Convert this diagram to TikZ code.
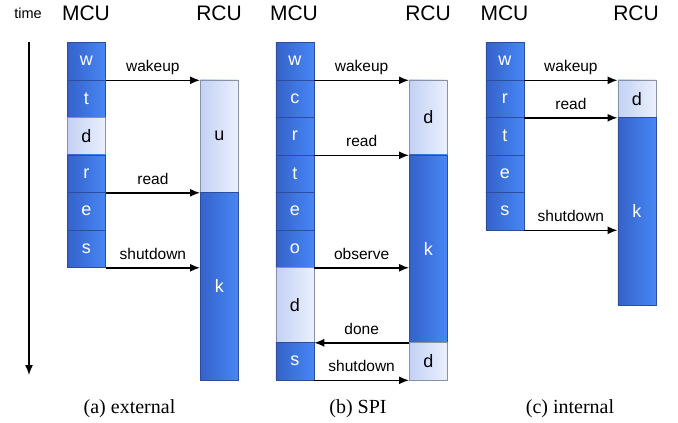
\documentclass[tikz,border=0pt]{standalone}
\usepackage{fontspec}
\setmainfont{Liberation Serif}
\setsansfont{Liberation Sans}
\usetikzlibrary{arrows.meta}
\definecolor{dkL}{HTML}{3562C9}
\definecolor{dkR}{HTML}{4787F5}
\definecolor{dkB}{HTML}{2D4C9C}
\definecolor{ltL}{HTML}{C3D1F4}
\definecolor{ltR}{HTML}{EAF0FD}
\definecolor{ltB}{HTML}{8792A8}
\begin{document}
\begin{tikzpicture}[x=1pt,y=-1pt,
  cellbase/.style={minimum width=38pt, inner sep=0pt, anchor=north west, line width=0.8pt,
     font=\sffamily\fontsize{18}{18}\selectfont},
  dk/.style={cellbase, draw=dkB, left color=dkL, right color=dkR, text=white},
  lt/.style={cellbase, draw=ltB, left color=ltL, right color=ltR, text=black},
  h1/.style={minimum height=37.5pt},
  msg/.style={-{Latex[length=10pt,width=8pt]}, line width=1.4pt},
  lbl/.style={font=\sffamily\fontsize{15.5}{15.5}\selectfont, anchor=base, inner sep=0pt, yshift=8.5pt},
  head/.style={font=\sffamily\fontsize{21}{21}\selectfont, anchor=base, inner sep=0pt},
  captext/.style={font=\rmfamily\fontsize{20}{20}\selectfont, anchor=base, inner sep=0pt}
]
\useasboundingbox (0,0) rectangle (678,423);

% headers
\node[font=\sffamily\fontsize{14.5}{14.5}\selectfont, anchor=base, inner sep=0pt] (time) at (28,18) {time};
\node[head] (hma) at (86,20) {MCU};
\node[head] (hra) at (219,20) {RCU};
\node[head] (hmb) at (294,20) {MCU};
\node[head] (hrb) at (428,20) {RCU};
\node[head] (hmc) at (504.5,20) {MCU};
\node[head] (hrc) at (636,20) {RCU};

% time arrow
\coordinate (t0) at (29,42);
\coordinate (t1) at (29,375);
\draw[msg] (t0) -- (t1);

% ---------- (a) external ----------
\node[dk,h1] (aw) at (67,42) {w};
\node[dk,h1] (atx) at (67,79.5) {t};
\node[lt,h1] (ad) at (67,117) {d};
\node[dk,h1] (ar) at (67,154.5) {r};
\node[dk,h1] (ae) at (67,192) {e};
\node[dk,h1] (as) at (67,229.5) {s};
\node[lt,minimum height=112.5pt] (au) at (200,79.5) {u};
\node[dk,minimum height=187.5pt] (ak) at (200,192) {k};
\draw[msg] (aw.south east) -- (aw.south east -| au.west) node[lbl,midway] {wakeup};
\draw[msg] (ar.south east) -- (ar.south east -| au.west) node[lbl,midway] {read};
\draw[msg] (as.south east) -- (as.south east -| ak.west) node[lbl,midway] {shutdown};
\node[captext] (capa) at (129.5,413) {(a) external};

% ---------- (b) SPI ----------
\node[dk,h1] (bw) at (275.5,42) {w};
\node[dk,h1] (bc) at (275.5,79.5) {c};
\node[dk,h1] (br) at (275.5,117) {r};
\node[dk,h1] (bt) at (275.5,154.5) {t};
\node[dk,h1] (be) at (275.5,192) {e};
\node[dk,h1] (bo) at (275.5,229.5) {o};
\node[lt,minimum height=75pt] (bd) at (275.5,267) {d};
\node[dk,h1] (bs) at (275.5,342) {s};
\node[lt,minimum height=75pt] (bd1) at (409,79.5) {d};
\node[dk,minimum height=187.5pt] (bk) at (409,154.5) {k};
\node[lt,h1] (bd2) at (409,342) {d};
\draw[msg] (bw.south east) -- (bw.south east -| bd1.west) node[lbl,midway] {wakeup};
\draw[msg] (br.south east) -- (br.south east -| bk.west) node[lbl,midway] {read};
\draw[msg] (bo.south east) -- (bo.south east -| bk.west) node[lbl,midway] {observe};
\draw[msg] (bk.south west) -- (bk.south west -| bd.east) node[lbl,midway] {done};
\draw[msg] (bs.south east) -- (bs.south east -| bd2.west) node[lbl,midway] {shutdown};
\node[captext] (capb) at (358,413) {(b) SPI};

% ---------- (c) internal ----------
\node[dk,h1] (cw) at (485.5,42) {w};
\node[dk,h1] (cr) at (485.5,79.5) {r};
\node[dk,h1] (ct) at (485.5,117) {t};
\node[dk,h1] (ce) at (485.5,154.5) {e};
\node[dk,h1] (cs) at (485.5,192) {s};
\node[lt,h1] (cd) at (617.5,79.5) {d};
\node[dk,minimum height=187.5pt] (ck) at (617.5,117) {k};
\draw[msg] (cw.south east) -- (cw.south east -| cd.west) node[lbl,midway] {wakeup};
\draw[msg] (cr.south east) -- (cr.south east -| ck.west) node[lbl,midway] {read};
\draw[msg] (cs.south east) -- (cs.south east -| ck.west) node[lbl,midway] {shutdown};
\node[captext] (capc) at (570,413) {(c) internal};
\end{tikzpicture}
\end{document}
